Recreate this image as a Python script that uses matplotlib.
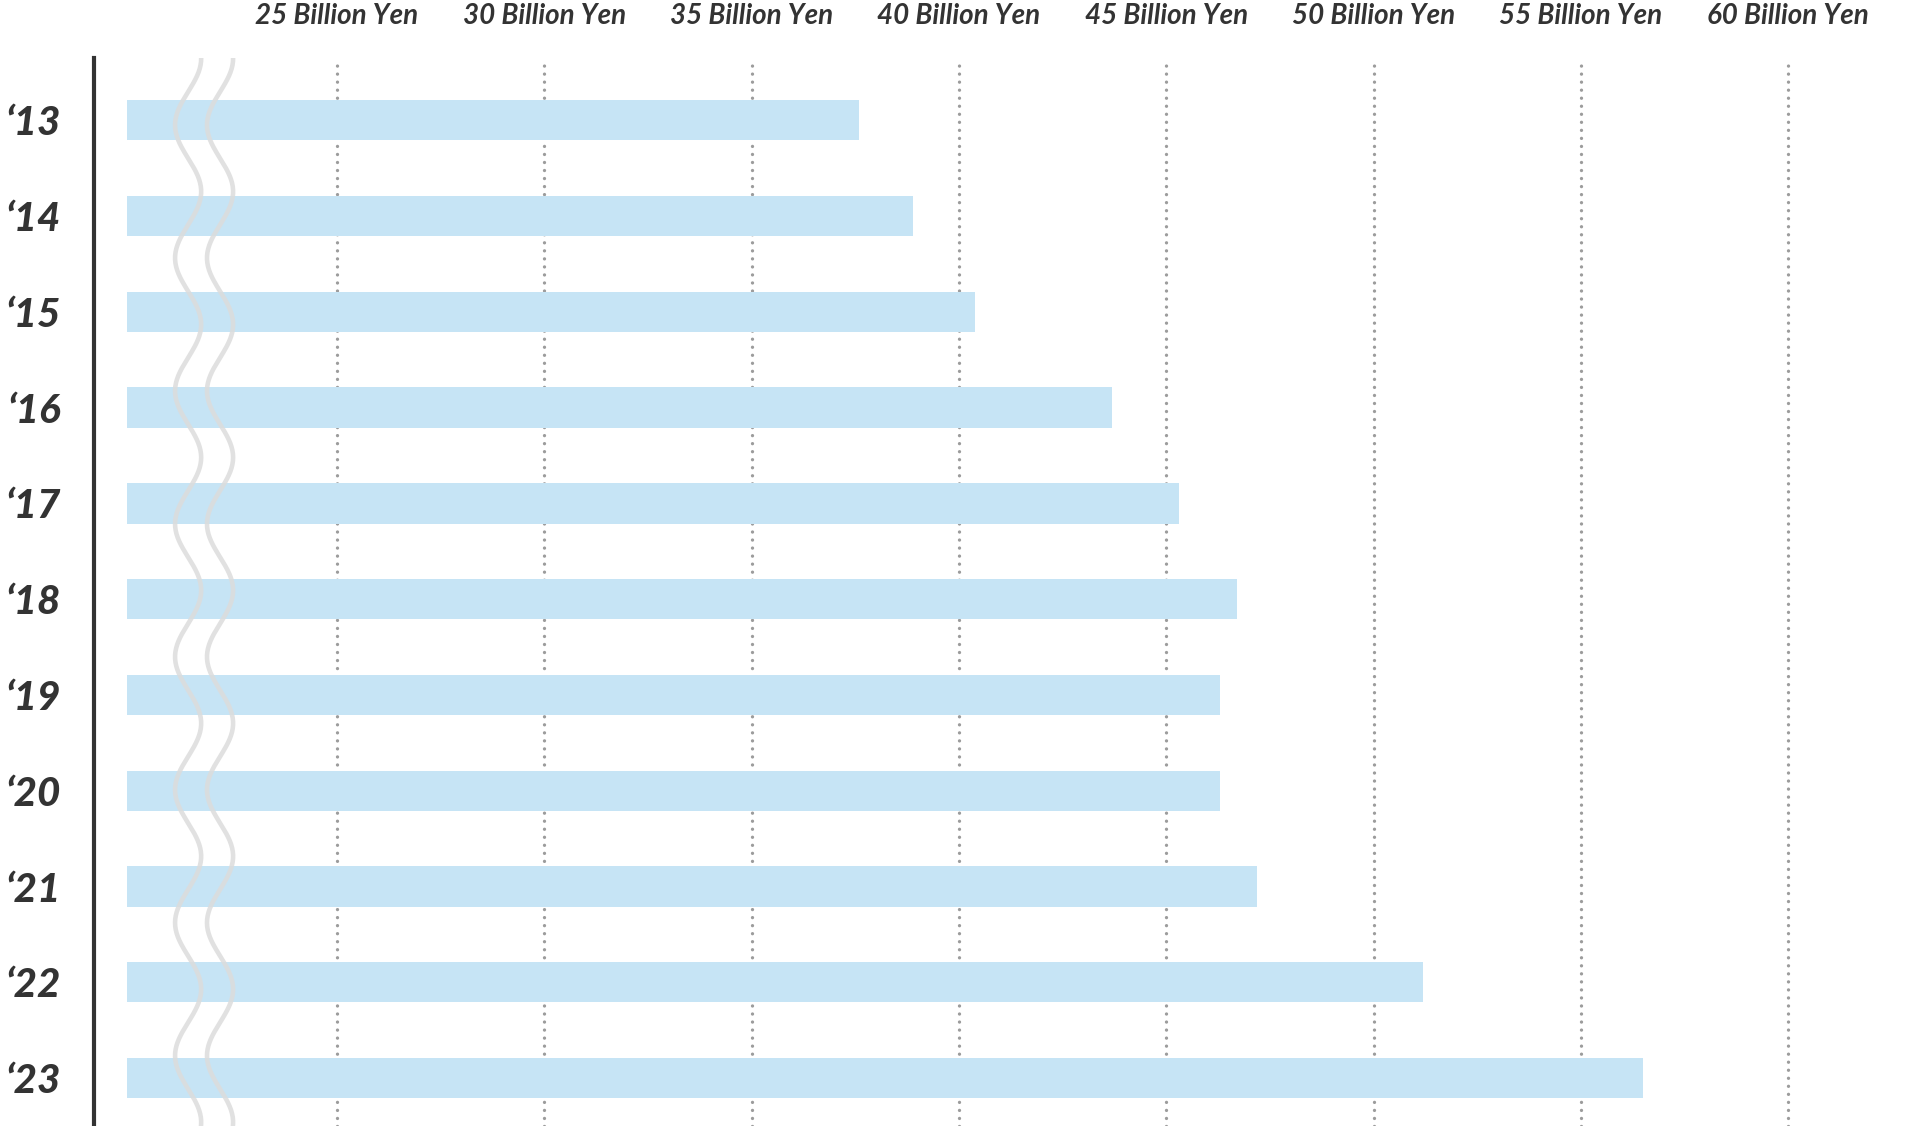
import matplotlib.pyplot as plt
import numpy as np

# data
years = ["\u201813", "\u201814", "\u201815", "\u201816", "\u201817", "\u201818",
         "\u201819", "\u201820", "\u201821", "\u201822", "\u201823"]
values = [37.6, 38.9, 40.4, 43.7, 45.3, 46.7, 46.3, 46.3, 47.2, 51.2, 56.5]
bar_start = 19.93
tick_values = [25, 30, 35, 40, 45, 50, 55, 60]
tick_labels = [str(v) + " Billion Yen" for v in tick_values]

plt.rcParams['font.family'] = ['Lato', 'DejaVu Sans']

fig = plt.figure(figsize=(19.2, 11.26), dpi=100)
ax = fig.add_axes([94 / 1920, 0, 1 - 94 / 1920, 1068 / 1126])

y = np.arange(len(years))
ax.barh(y, [v - bar_start for v in values], left=bar_start, height=0.42,
        color='#c6e4f5', zorder=2)

# dotted grid lines
for v in tick_values:
    ax.axvline(v, color='#9c9c9c', lw=2.4, linestyle=(0, (0.01, 2.4)),
               dash_capstyle='round', zorder=1)

ax.set_xlim(19.14, 63.18)
ax.set_ylim(10.5, -0.65)

# axis break squiggles
yy = np.linspace(-0.65, 10.5, 600)
for c in [21.41, 22.18]:
    ax.plot(c - 0.315 * np.cos(2 * np.pi * (yy - 0.05) / 1.388), yy,
            color='#dcdcdc', lw=3.3, zorder=3, alpha=0.85)

for s in ['top', 'right', 'bottom']:
    ax.spines[s].set_visible(False)
ax.spines['left'].set_color('#333333')
ax.spines['left'].set_linewidth(3)

ax.xaxis.tick_top()
ax.set_xticks(tick_values, tick_labels)
ax.tick_params(axis='x', length=0, pad=21, labelsize=20, labelcolor='#333333')
for lbl in ax.get_xticklabels():
    lbl.set_fontstyle('italic')
    lbl.set_fontweight('bold')

ax.set_yticks(y, years)
ax.tick_params(axis='y', length=0, pad=24, labelsize=29, labelcolor='#333333')
for lbl in ax.get_yticklabels():
    lbl.set_fontstyle('italic')
    lbl.set_fontweight('black')

fig.savefig('out.png', dpi=100)
